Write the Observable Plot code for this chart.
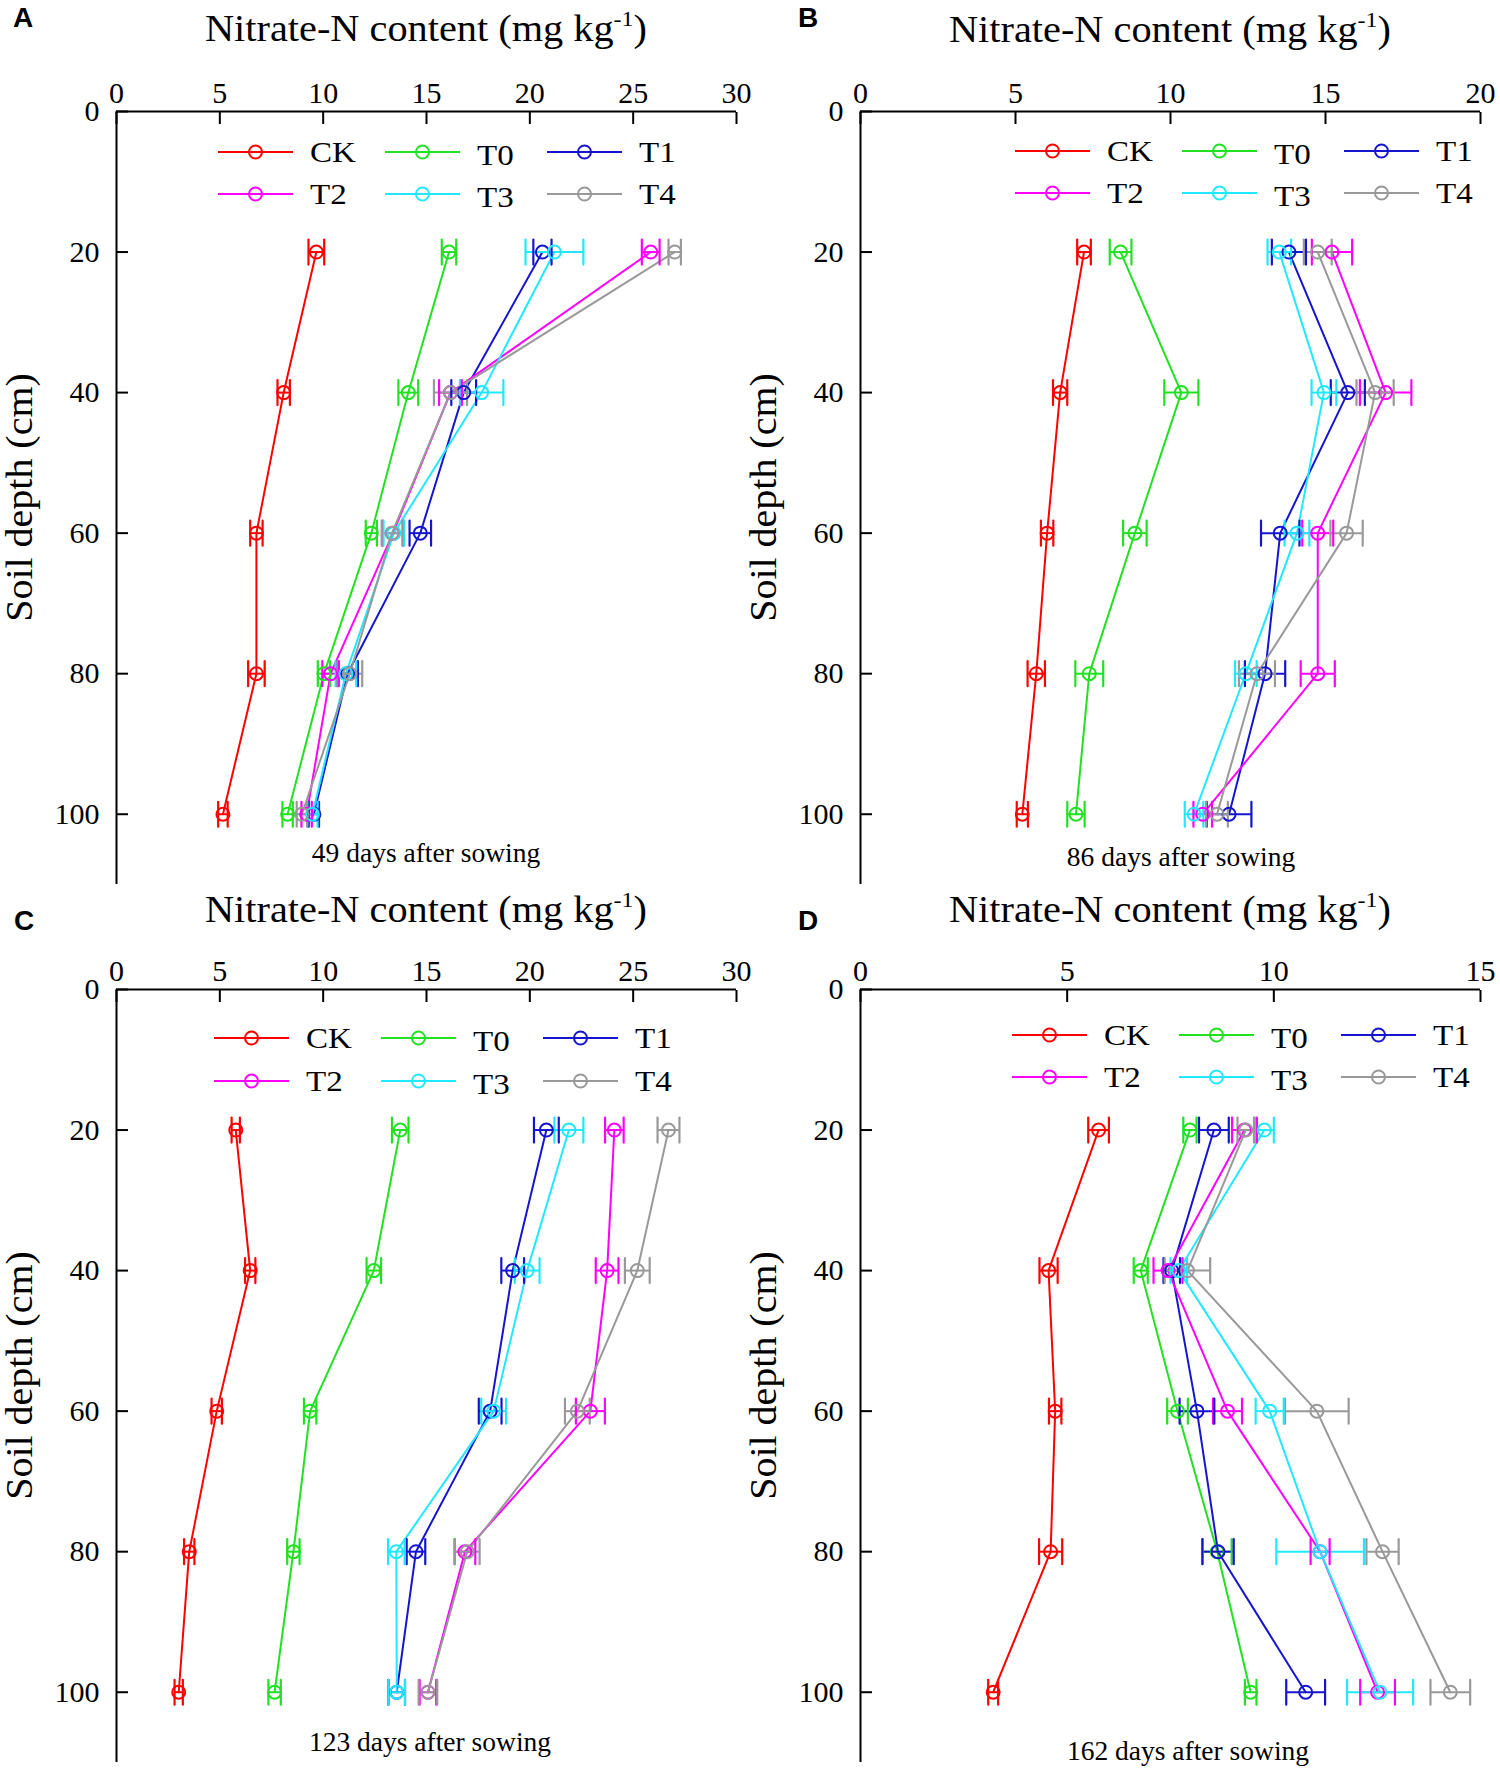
<!DOCTYPE html>
<html>
<head>
<meta charset="utf-8">
<script src="https://cdn.jsdelivr.net/npm/d3@7"></script>
<script src="https://cdn.jsdelivr.net/npm/@observablehq/plot@0.6"></script>
<style>
  body { margin: 0; background: #fff; }
  #root { position: relative; width: 1500px; height: 1771px; overflow: hidden; font-family: "Liberation Serif", "Times New Roman", serif; }
  .panel { position: absolute; width: 750px; height: 886px; }
  .panel svg { position: absolute; left: 0; top: 0; overflow: visible; }
</style>
</head>
<body>
<div id="root"></div>
<script>
// ---------- data ----------
const depths = [20, 40, 60, 80, 100];
const treatments = ["CK", "T0", "T1", "T2", "T3", "T4"];
const colors = ["#ff0000", "#22e022", "#1515d0", "#ff00ff", "#22e8ff", "#999999"];
const yTicks = [0, 20, 40, 60, 80, 100];

const panelLetters = ["A", "B", "C", "D"];
const captions = ["49 days after sowing", "86 days after sowing", "123 days after sowing", "162 days after sowing"];
const xMax = [30, 20, 30, 15];
const xTicksA = [0, 5, 10, 15, 20, 25, 30];
const xTicksB = [0, 5, 10, 15, 20];
const xTicksC = [0, 5, 10, 15, 20, 25, 30];
const xTicksD = [0, 5, 10, 15];

// rows: CK, T0, T1, T2, T3, T4 ; columns: depth 20..100
const valuesA = [
  [9.67, 8.09, 6.77, 6.77, 5.15],
  [16.09, 14.12, 12.33, 10.04, 8.28],
  [20.61, 16.8, 14.7, 11.18, 9.55],
  [25.85, 16.16, 13.38, 10.36, 9.2],
  [21.19, 17.67, 13.42, 11.1, 9.48],
  [27.01, 16.16, 13.33, 11.29, 8.97]
];
const errorsA = [
  [0.38, 0.3, 0.3, 0.4, 0.23],
  [0.35, 0.48, 0.27, 0.3, 0.25],
  [0.44, 0.6, 0.52, 0.5, 0.25],
  [0.43, 0.55, 0.5, 0.4, 0.25],
  [1.4, 1.05, 0.5, 0.5, 0.25],
  [0.3, 0.8, 0.5, 0.6, 0.25]
];
const valuesB = [
  [7.21, 6.44, 6.02, 5.67, 5.22],
  [8.39, 10.35, 8.85, 7.38, 6.95],
  [13.82, 15.72, 13.54, 13.05, 11.89],
  [15.21, 16.94, 14.75, 14.75, 11.04],
  [13.51, 14.95, 14.08, 12.43, 10.76],
  [14.75, 16.6, 15.68, 12.79, 11.5]
];
const errorsB = [
  [0.22, 0.23, 0.2, 0.28, 0.18],
  [0.35, 0.55, 0.38, 0.45, 0.28],
  [0.55, 0.55, 0.62, 0.65, 0.72],
  [0.65, 0.83, 0.5, 0.55, 0.3],
  [0.38, 0.4, 0.4, 0.35, 0.3],
  [0.45, 0.6, 0.52, 0.58, 0.35]
];
const valuesC = [
  [5.77, 6.47, 4.85, 3.52, 3.01],
  [13.73, 12.45, 9.37, 8.56, 7.65],
  [20.8, 19.17, 18.08, 14.49, 13.56],
  [24.09, 23.74, 22.93, 16.86, 15.07],
  [21.89, 19.87, 18.25, 13.54, 13.56],
  [26.71, 25.2, 22.3, 16.97, 15.07]
];
const errorsC = [
  [0.2, 0.25, 0.25, 0.25, 0.2],
  [0.4, 0.35, 0.3, 0.3, 0.3],
  [0.6, 0.55, 0.55, 0.45, 0.4],
  [0.45, 0.55, 0.7, 0.5, 0.4],
  [0.7, 0.6, 0.6, 0.4, 0.4],
  [0.53, 0.6, 0.6, 0.6, 0.45]
];
const valuesD = [
  [5.76, 4.55, 4.71, 4.6, 3.21],
  [7.97, 6.78, 7.67, 8.63, 9.44],
  [8.55, 7.53, 8.14, 8.65, 10.77],
  [9.29, 7.44, 8.88, 11.12, 12.51],
  [9.77, 7.7, 9.9, 11.12, 12.57],
  [9.32, 7.91, 11.04, 12.63, 14.27]
];
const errorsD = [
  [0.25, 0.22, 0.15, 0.28, 0.12],
  [0.16, 0.17, 0.25, 0.35, 0.14],
  [0.36, 0.2, 0.42, 0.38, 0.47],
  [0.3, 0.35, 0.35, 0.23, 0.42],
  [0.23, 0.2, 0.34, 1.06, 0.8],
  [0.2, 0.55, 0.77, 0.39, 0.48]
];

// ---------- layout ----------
const panels = [
  {left: 0,   top: 0,   values: valuesA, errors: errorsA, ticks: xTicksA, mL: 116, mR: 14, mT: 111, mB: 2,
   titleY: 41, capX: 426, capY: 862, letterX: 13, letterY: 27, ylabX: 20, legX: 218, legY: [152, 194]},
  {left: 750, top: 0,   values: valuesB, errors: errorsB, ticks: xTicksB, mL: 110, mR: 20, mT: 111, mB: 2,
   titleY: 42, capX: 431, capY: 866, letterX: 48, letterY: 27, ylabX: 14, legX: 265, legY: [151, 193]},
  {left: 0,   top: 885, values: valuesC, errors: errorsC, ticks: xTicksC, mL: 116, mR: 14, mT: 104, mB: 9,
   titleY: 37, capX: 430, capY: 866, letterX: 14, letterY: 45, ylabX: 20, legX: 214, legY: [153, 196]},
  {left: 750, top: 885, values: valuesD, errors: errorsD, ticks: xTicksD, mL: 110, mR: 20, mT: 104, mB: 9,
   titleY: 37, capX: 438, capY: 875, letterX: 48, letterY: 45, ylabX: 14, legX: 262, legY: [150, 192]}
];

const W = 750, H = 886;
const capShape = {draw(context, l) { context.moveTo(0, 0); context.lineTo(0, -l); }};
const root = document.getElementById("root");

panels.forEach((p, i) => {
  const rows = [];
  treatments.forEach((t, ti) => {
    depths.forEach((d, di) => {
      rows.push({trt: t, depth: d, v: p.values[ti][di], e: p.errors[ti][di]});
    });
  });

  const div = document.createElement("div");
  div.className = "panel";
  div.style.left = p.left + "px";
  div.style.top = p.top + "px";
  root.appendChild(div);

  const chart = Plot.plot({
    width: W, height: H,
    marginLeft: p.mL, marginRight: p.mR, marginTop: p.mT, marginBottom: p.mB,
    style: {fontFamily: '"Liberation Serif", "Times New Roman", serif', background: "transparent", overflow: "visible"},
    x: {domain: [0, xMax[i]], axis: null},
    y: {domain: [0, 110], reverse: true, axis: null},
    color: {domain: treatments, range: colors},
    marks: [
      Plot.ruleY([0], {stroke: "#000", strokeWidth: 2}),
      Plot.ruleX([0], {stroke: "#000", strokeWidth: 2}),
      Plot.axisX({anchor: "top", ticks: p.ticks, tickSize: -12, text: null, strokeWidth: 2, label: null}),
      Plot.axisX({anchor: "top", ticks: p.ticks, tickSize: 0, tickPadding: 9, fontSize: 30, label: null, fill: "#000"}),
      Plot.axisY({anchor: "left", ticks: yTicks, tickSize: -12, text: null, strokeWidth: 2, label: null}),
      Plot.axisY({anchor: "left", ticks: yTicks, tickSize: 0, tickPadding: 17, fontSize: 30, label: null, fill: "#000"}),
      Plot.line(rows, {x: "v", y: "depth", z: "trt", stroke: "trt", strokeWidth: 2}),
      Plot.link(rows, {x1: d => d.v - d.e, x2: d => d.v + d.e, y1: "depth", y2: "depth", stroke: "trt", strokeWidth: 2}),
      Plot.vector(rows, {x: d => d.v - d.e, y: "depth", length: 25, rotate: 0, anchor: "middle", shape: capShape, stroke: "trt", strokeWidth: 2.2}),
      Plot.vector(rows, {x: d => d.v + d.e, y: "depth", length: 25, rotate: 0, anchor: "middle", shape: capShape, stroke: "trt", strokeWidth: 2.2}),
      Plot.dot(rows, {x: "v", y: "depth", r: 6.5, stroke: "trt", fill: "none", strokeWidth: 2})
    ]
  });
  div.appendChild(chart);

  // overlay for texts & legend
  const ov = d3.select(div).append("svg")
    .attr("width", W).attr("height", H)
    .style("font-family", '"Liberation Serif", "Times New Roman", serif');

  const cx = p.mL + (W - p.mL - p.mR) / 2;
  const title = ov.append("text").attr("transform", `translate(${cx},${p.titleY}) scale(1.09,1)`)
    .attr("text-anchor", "middle").attr("font-size", 37).attr("fill", "#000");
  title.append("tspan").text("Nitrate-N content (mg kg");
  title.append("tspan").attr("font-size", 22).attr("dy", -15).text("-1");
  title.append("tspan").attr("dy", 15).text(")");

  const cy = p.mT + (H - p.mT - p.mB) / 2;
  ov.append("text").attr("transform", `translate(${p.ylabX},${cy}) rotate(-90) scale(1.08,1)`)
    .attr("text-anchor", "middle").attr("dominant-baseline", "central")
    .attr("font-size", 37).attr("fill", "#000").text("Soil depth (cm)");

  ov.append("text").attr("x", p.capX).attr("y", p.capY).attr("text-anchor", "middle")
    .attr("font-size", 27.5).attr("fill", "#000").text(captions[i]);

  ov.append("text").attr("x", p.letterX).attr("y", p.letterY)
    .attr("font-family", '"Liberation Sans", Arial, sans-serif').attr("font-weight", "bold")
    .attr("font-size", 28).attr("fill", "#000").text(panelLetters[i]);

  // legend: 3 columns x 2 rows
  treatments.forEach((t, ti) => {
    const col = ti % 3, row = Math.floor(ti / 3);
    const x0 = p.legX + [0, 167, 329][col];
    const y0 = p.legY[row];
    const g = ov.append("g");
    g.append("line").attr("x1", x0).attr("x2", x0 + 75).attr("y1", y0).attr("y2", y0)
      .attr("stroke", colors[ti]).attr("stroke-width", 2);
    g.append("circle").attr("cx", x0 + 37.5).attr("cy", y0).attr("r", 6.5)
      .attr("fill", "none").attr("stroke", colors[ti]).attr("stroke-width", 2);
    g.append("text").attr("transform", `translate(${x0 + 92},${y0 + (col === 1 ? 3 : 0)}) scale(1.14,1)`)
      .attr("dominant-baseline", "central")
      .attr("font-size", 29).attr("fill", "#000").text(t);
  });
});
</script>
</body>
</html>
